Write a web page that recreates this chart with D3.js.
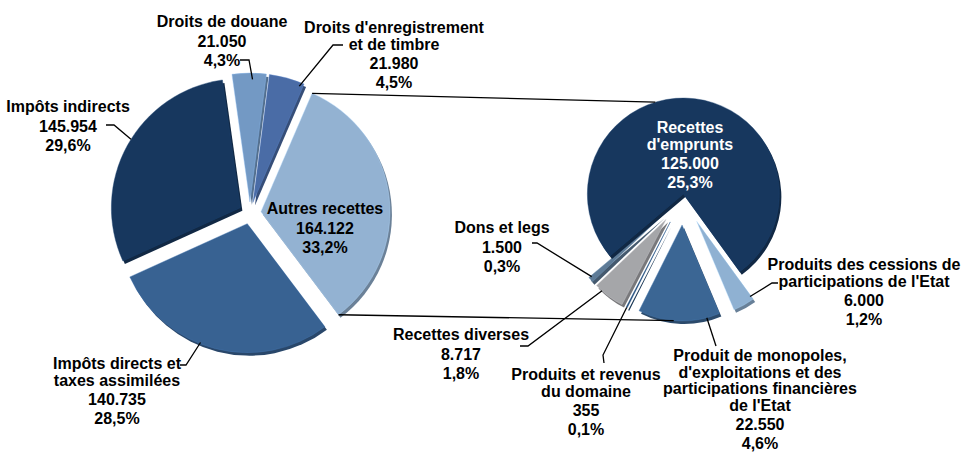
<!DOCTYPE html>
<html>
<head>
<meta charset="utf-8">
<script src="https://cdn.jsdelivr.net/npm/d3@7"></script>
<style>
body{margin:0;background:#fff;}
text{font-family:"Liberation Sans Narrow","Arial Narrow","Liberation Sans",Arial,sans-serif;font-weight:bold;font-size:16px;}
</style>
</head>
<body>
<div id="DrawingBoard"></div>
<script>
var width=966,height=459;

// camembert principal
var cat1=["Droits de douane","Droits d'enregistrement\net de timbre","Autres recettes","Impôts directs et\ntaxes assimilées","Impôts indirects"];
var val1=[21050,21980,164122,140735,145954];
var col1=["#7399c4","#4a6ca6","#93b2d2","#386292","#17375e"];

// second camembert : détail des autres recettes
var cat2=["Produits des cessions de\nparticipations de l'Etat","Produit de monopoles,\nd'exploitations et des\nparticipations financières\nde l'Etat","Produits et revenus\ndu domaine","Recettes diverses","Dons et legs","Recettes\nd'emprunts"];
var val2=[6000,22550,355,8717,1500,125000];
var col2=["#8fb1d2","#3b6694","#1f4773","#a5a6a9","#5e7b97","#17375e"];

var total=d3.sum(val1);
var loc=d3.formatLocale({decimal:",",thousands:".",grouping:[3],currency:["",""]});
var fmtVal=loc.format(",d"),fmtPct=loc.format(".1f");

var svg=d3.select('#DrawingBoard')
    .append('svg')
    .attr('width',width)
    .attr('height',height);

var deg=Math.PI/180;
// géométrie
var p1={cx:250,cy:213,r:129,explode:11,start:-8*deg};
var p2={cx:683,cy:197,r:96,start:144*deg};

var pie1=d3.pie().sort(null).value(function(d){return d;})
    .startAngle(p1.start).endAngle(p1.start+2*Math.PI);
var arcs1=pie1(val1);

var pie2=d3.pie().sort(null).value(function(d){return d;})
    .startAngle(p2.start).endAngle(p2.start+2*Math.PI);
var arcs2=pie2(val2);
var explode2=[28,28,28,28,28,3];

function centre(p,a,e){
    var m=(a.startAngle+a.endAngle)/2;
    return [p.cx+e*Math.sin(m),p.cy-e*Math.cos(m)];
}
function pt(c,ang,r){return [c[0]+r*Math.sin(ang),c[1]-r*Math.cos(ang)];}

function drawPie(p,arcs,cols,expl){
    var arc=d3.arc().innerRadius(0).outerRadius(p.r);
    var g=svg.append('g');
    arcs.forEach(function(a,i){
        var c=centre(p,a,typeof expl==="number"?expl:expl[i]);
        a.c=c;
        // face latérale (effet 3D)
        g.append('path')
            .attr('d',arc(a))
            .attr('transform','translate('+(c[0]+2)+','+(c[1]+3)+')')
            .attr('fill',d3.color(cols[i]).darker(0.9));
        g.append('path')
            .attr('d',arc(a))
            .attr('transform','translate('+c[0]+','+c[1]+')')
            .attr('fill',cols[i])
            .attr('stroke',d3.color(cols[i]).brighter(0.6))
            .attr('stroke-opacity',0.5)
            .attr('stroke-width',0.8);
    });
}
drawPie(p1,arcs1,col1,p1.explode);
drawPie(p2,arcs2,col2,explode2);

// lignes de liaison entre les deux camemberts
var other=arcs1[2];
var emp=arcs2[5],mono=arcs2[1];
var links=[
    [pt(other.c,other.startAngle,p1.r),pt(emp.c,-17*deg,p2.r)],
    [pt(other.c,other.endAngle,p1.r),pt(mono.c,185*deg,p2.r)]
];
svg.append('g').selectAll('line').data(links).enter().append('line')
    .attr('x1',function(d){return d[0][0];}).attr('y1',function(d){return d[0][1];})
    .attr('x2',function(d){return d[1][0];}).attr('y2',function(d){return d[1][1];})
    .attr('stroke','#000').attr('stroke-width',1.3);

// étiquettes : position du texte, coude de la ligne de rappel, point d'attache
var lab1=[
    {x:222,y:27,lead:[[240,60],[249,60]],t:0.6,rf:0.95},
    {x:394,y:33,lead:[[343,45],[333,45]],t:0.9,rf:0.97},
    {x:325,y:214},
    {x:117,y:369,lead:[[180,365],[186,365]],t:0.57,rf:0.99},
    {x:68,y:112,lead:[[106,125],[114,125]],t:0.53,rf:1}
];
var lab2=[
    {x:864,y:270,lead:[[778,283],[772,283]],t:0.05,rf:0.96},
    {x:760,y:361,lead:[[716,346]],t:0.16,rf:1},
    {x:586,y:380,lead:[[604,363],[603,355]],t:0.5,rf:1},
    {x:461,y:340,lead:[[520,346],[528,346]],t:0.76,rf:1},
    {x:502,y:233,lead:[[532,243],[537,243]],t:0.8,rf:0.97},
    {x:690,y:133,fill:"#fff"}
];

function drawLabels(p,arcs,cats,vals,labs){
    var g=svg.append('g');
    labs.forEach(function(l,i){
        var a=arcs[i];
        if(l.lead){
            var ang=a.startAngle+l.t*(a.endAngle-a.startAngle);
            var pts=l.lead.concat([pt(a.c,ang,l.rf*p.r)]);
            g.append('path')
                .attr('d',d3.line()(pts))
                .attr('fill','none')
                .attr('stroke','#000')
                .attr('stroke-width',1.3);
        }
        var lines=cats[i].split("\n");
        var t=g.append('text')
            .attr('x',l.x).attr('y',l.y)
            .attr('text-anchor','middle')
            .attr('fill',l.fill||'#000');
        lines.forEach(function(s,k){
            t.append('tspan').attr('x',l.x).attr('dy',k===0?0:16.5).text(s);
        });
        t.append('tspan').attr('x',l.x).attr('dy',19.5).text(fmtVal(vals[i]));
        t.append('tspan').attr('x',l.x).attr('dy',19).text(fmtPct(vals[i]/total*100)+"%");
    });
}
drawLabels(p1,arcs1,cat1,val1,lab1);
drawLabels(p2,arcs2,cat2,val2,lab2);
</script>
</body>
</html>
